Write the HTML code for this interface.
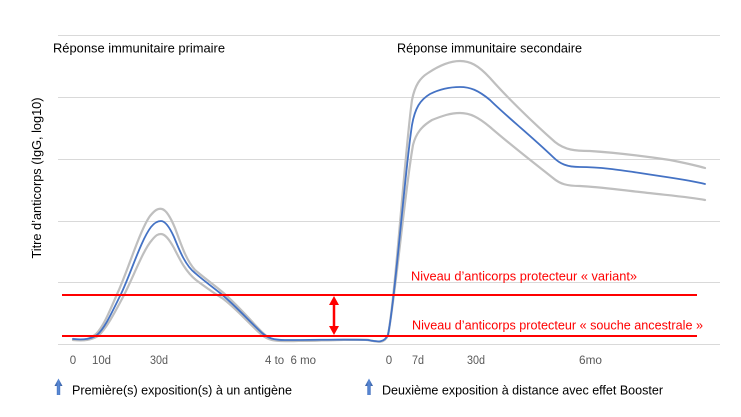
<!DOCTYPE html>
<html><head><meta charset="utf-8"><style>
html,body{margin:0;padding:0;background:#fff;}
svg{display:block;}
text{font-family:"Liberation Sans",sans-serif;}
</style></head><body>
<svg width="741" height="417" viewBox="0 0 741 417" xmlns="http://www.w3.org/2000/svg">
<rect width="741" height="417" fill="#fff"/>
<g stroke="#D9D9D9" stroke-width="1">
<line x1="58" y1="35.5" x2="720" y2="35.5"/>
<line x1="58" y1="97.5" x2="720" y2="97.5"/>
<line x1="58" y1="159.5" x2="720" y2="159.5"/>
<line x1="58" y1="221.5" x2="720" y2="221.5"/>
<line x1="58" y1="282.5" x2="720" y2="282.5"/>
<line x1="58" y1="344.5" x2="720" y2="344.5"/>
</g>
<text x="53" y="52.5" font-size="12.5" fill="#000" textLength="172" lengthAdjust="spacingAndGlyphs">Réponse immunitaire primaire</text>
<text x="397" y="52.5" font-size="12.5" fill="#000" textLength="185" lengthAdjust="spacingAndGlyphs">Réponse immunitaire secondaire</text>
<text transform="translate(41,178) rotate(-90)" text-anchor="middle" font-size="12.5" fill="#000" textLength="161" lengthAdjust="spacingAndGlyphs">Titre d’anticorps (IgG, log10)</text>

<g fill="none" stroke-linecap="round" stroke-linejoin="round">
<path stroke="#BFBFBF" stroke-width="2.2" d="M73,339 C85,341 90,339 96,334 C104,326 110,310 118,292 C128,270 140,230 150,216 C155,210 158,208 162,209 C166,210 170,216 175,228 C181,244 186,260 195,270 C202,276 210,282 220,290 C235,302 250,320 262,332 C268,338 273,341 285,341 C320,341 350,339 368,340 C378,342 384,344 388,335 C395,300 405,150 412,100 C415,85 420,78 428,73 C440,65 450,61 460,61 C470,61 478,65 490,78 C505,95 530,120 555,142 C565,150 575,151 590,151 C620,153 650,157 670,160 C685,163 695,165 705,168"/>
<path stroke="#BFBFBF" stroke-width="2.2" d="M73,340 C85,341 91,340 98,336 C106,329 114,314 123,297 C133,278 143,250 152,240 C156,235 158,234 161,234 C165,234 169,239 174,248 C180,260 186,272 196,280 C204,286 212,292 222,298 C236,308 250,325 262,335 C268,340 274,341 285,341 C320,341 350,339 368,340 C378,342 384,344 388,335 C395,300 405,190 413,145 C416,133 422,126 432,120 C442,116 450,113 460,113 C470,113 478,117 490,127 C505,140 530,160 553,178 C560,184 567,186 580,186 C600,187 620,190 640,192 C665,195 690,197 705,200"/>
<path stroke="#4472C4" stroke-width="1.8" d="M73,339 C85,340 91,339 97,335 C105,328 112,312 121,294 C131,273 141,240 151,227 C155,222 158,221 161,221 C165,221 169,226 174,237 C180,252 186,266 195,273 C203,280 210,285 220,293 C235,305 250,322 262,333 C268,338 273,340 285,340 C320,340 350,339 368,340 C378,342 384,343 388,335 C395,300 405,170 412,125 C415,108 420,100 430,94 C440,89 450,87 460,87 C470,87 478,90 490,100 C505,115 530,135 553,157 C560,164 567,167 580,167 C600,167 620,170 640,173 C665,177 690,180 705,184"/>
</g>

<line x1="62" y1="295" x2="697" y2="295" stroke="#FF0000" stroke-width="2"/>
<line x1="62" y1="336" x2="697" y2="336" stroke="#FF0000" stroke-width="2"/>
<line x1="334" y1="302" x2="334" y2="329" stroke="#FF0000" stroke-width="2.5"/>
<polygon points="334,296 329,305 339,305" fill="#FF0000"/>
<polygon points="334,335 329,326 339,326" fill="#FF0000"/>

<text x="411" y="280.5" font-size="12.5" fill="#FF0000" textLength="226" lengthAdjust="spacingAndGlyphs">Niveau d’anticorps protecteur « variant»</text>
<text x="412" y="329.5" font-size="12.5" fill="#FF0000" textLength="291" lengthAdjust="spacingAndGlyphs">Niveau d’anticorps protecteur « souche ancestrale »</text>

<g font-size="11.5" fill="#595959">
<text x="73" y="364" text-anchor="middle">0</text>
<text x="92" y="364" textLength="19" lengthAdjust="spacingAndGlyphs">10d</text>
<text x="150" y="364" textLength="18" lengthAdjust="spacingAndGlyphs">30d</text>
<text x="265" y="364" textLength="51" lengthAdjust="spacingAndGlyphs">4 to&#160; 6 mo</text>
<text x="389" y="364" text-anchor="middle">0</text>
<text x="412" y="364" textLength="12" lengthAdjust="spacingAndGlyphs">7d</text>
<text x="467" y="364" textLength="18" lengthAdjust="spacingAndGlyphs">30d</text>
<text x="579" y="364" textLength="23" lengthAdjust="spacingAndGlyphs">6mo</text>
</g>

<defs>
<linearGradient id="ag" x1="0" y1="0" x2="1" y2="0">
<stop offset="0" stop-color="#2F5597"/><stop offset="0.5" stop-color="#5B8BD9"/><stop offset="1" stop-color="#2F5597"/>
</linearGradient>
</defs>
<polygon points="58.5,378.5 54.5,386 56.8,386 56.8,395 60.2,395 60.2,386 62.5,386" fill="url(#ag)"/>
<polygon points="369,378.5 365,386 367.3,386 367.3,395 370.7,395 370.7,386 373,386" fill="url(#ag)"/>

<text x="72" y="394.5" font-size="12.5" fill="#000" textLength="220" lengthAdjust="spacingAndGlyphs">Première(s) exposition(s) à un antigène</text>
<text x="382" y="394.5" font-size="12.5" fill="#000" textLength="281" lengthAdjust="spacingAndGlyphs">Deuxième exposition à distance avec effet Booster</text>
</svg>
</body></html>
